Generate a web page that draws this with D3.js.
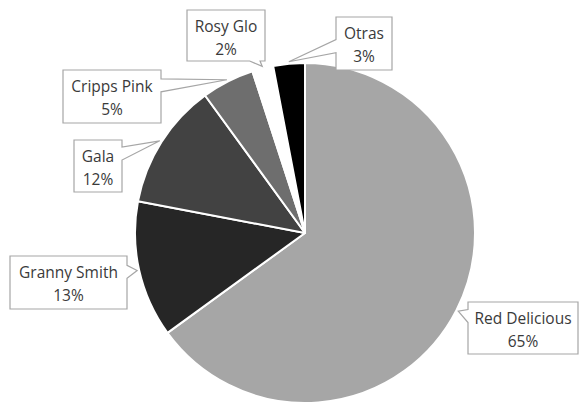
<!DOCTYPE html>
<html>
<head>
<meta charset="utf-8">
<script src="https://cdn.jsdelivr.net/npm/d3@7"></script>
<style>
  html, body { margin: 0; padding: 0; background: #fff; }
  svg { display: block; }
  text { font-family: "Open Sans", "Liberation Sans", sans-serif; }
</style>
</head>
<body>
<svg id="chart" width="579" height="404"></svg>
<script>
// ---- data ----
const categories = ["Red Delicious", "Granny Smith", "Gala", "Cripps Pink", "Rosy Glo", "Otras"];
const shares = [65, 13, 12, 5, 2, 3];
const shareLabels = ["65%", "13%", "12%", "5%", "2%", "3%"];

// ---- styles / layout ----
const sliceColors = ["#a6a6a6", "#262626", "#424242", "#6e6e6e", "#ffffff", "#000000"];
const labelBoxes = [
  { x: 468, y: 302, w: 110, h: 52, side: "left",   at: 0.27 },
  { x: 10,  y: 256, w: 117, h: 53, side: "right",  at: 0.30 },
  { x: 74,  y: 140, w: 48,  h: 52, side: "right",  at: 0.26 },
  { x: 63,  y: 70,  w: 98,  h: 53, side: "right",  at: 0.29 },
  { x: 187, y: 10,  w: 78,  h: 51, side: "bottom", at: 0.87 },
  { x: 336, y: 17,  w: 56,  h: 53, side: "left",   at: 0.55 }
];

const W = 579, H = 404;
const cx = 305, cy = 233, R = 170;

const svg = d3.select("#chart");
const g = svg.append("g").attr("transform", `translate(${cx},${cy})`);

const data = categories.map((c, i) => ({ name: c, value: shares[i], label: shareLabels[i], i }));

const pie = d3.pie().value(d => d.value).sort(null).startAngle(0).endAngle(2 * Math.PI);
const arcs = pie(data);
const arc = d3.arc().innerRadius(0).outerRadius(R);
const tipArc = d3.arc().innerRadius(R + 2).outerRadius(R + 2);

g.selectAll("path.slice")
  .data(arcs)
  .join("path")
  .attr("class", "slice")
  .attr("d", arc)
  .attr("fill", d => sliceColors[d.data.i])
  .attr("stroke", "#ffffff")
  .attr("stroke-width", 2)
  .attr("stroke-linejoin", "round");

// callouts
const half = 6.5;
function calloutPath(b, tip) {
  const x0 = b.x, y0 = b.y, x1 = b.x + b.w, y1 = b.y + b.h;
  const p = d3.path();
  p.moveTo(x0, y0);
  if (b.side === "left") {
    p.lineTo(x1, y0); p.lineTo(x1, y1); p.lineTo(x0, y1);
    const c = y0 + b.h * b.at;
    p.lineTo(x0, c + half); p.lineTo(tip[0], tip[1]); p.lineTo(x0, c - half);
    p.closePath();
  } else if (b.side === "right") {
    p.lineTo(x1, y0);
    const c = y0 + b.h * b.at;
    p.lineTo(x1, c - half); p.lineTo(tip[0], tip[1]); p.lineTo(x1, c + half);
    p.lineTo(x1, y1); p.lineTo(x0, y1); p.closePath();
  } else {
    p.lineTo(x1, y0); p.lineTo(x1, y1);
    const c = x0 + b.w * b.at;
    p.lineTo(c + half * 0.8, y1); p.lineTo(tip[0], tip[1]); p.lineTo(c - half * 0.8, y1);
    p.lineTo(x0, y1); p.closePath();
  }
  return p.toString();
}

const labels = svg.append("g");
arcs.forEach(a => {
  const i = a.data.i;
  const b = labelBoxes[i];
  const t = tipArc.centroid(a);
  const tip = [t[0] + cx, t[1] + cy];
  labels.append("path")
    .attr("d", calloutPath(b, tip))
    .attr("fill", "#ffffff")
    .attr("stroke", "#a6a6a6")
    .attr("stroke-width", 1.2);
  const tx = b.x + b.w / 2;
  const txt = labels.append("text")
    .attr("text-anchor", "middle")
    .attr("fill", "#3a3a3a")
    .attr("font-size", 15.5);
  txt.append("tspan").attr("x", tx).attr("y", b.y + 21.5).text(a.data.name);
  txt.append("tspan").attr("x", tx).attr("y", b.y + 44.5).text(a.data.label);
});
</script>
</body>
</html>
